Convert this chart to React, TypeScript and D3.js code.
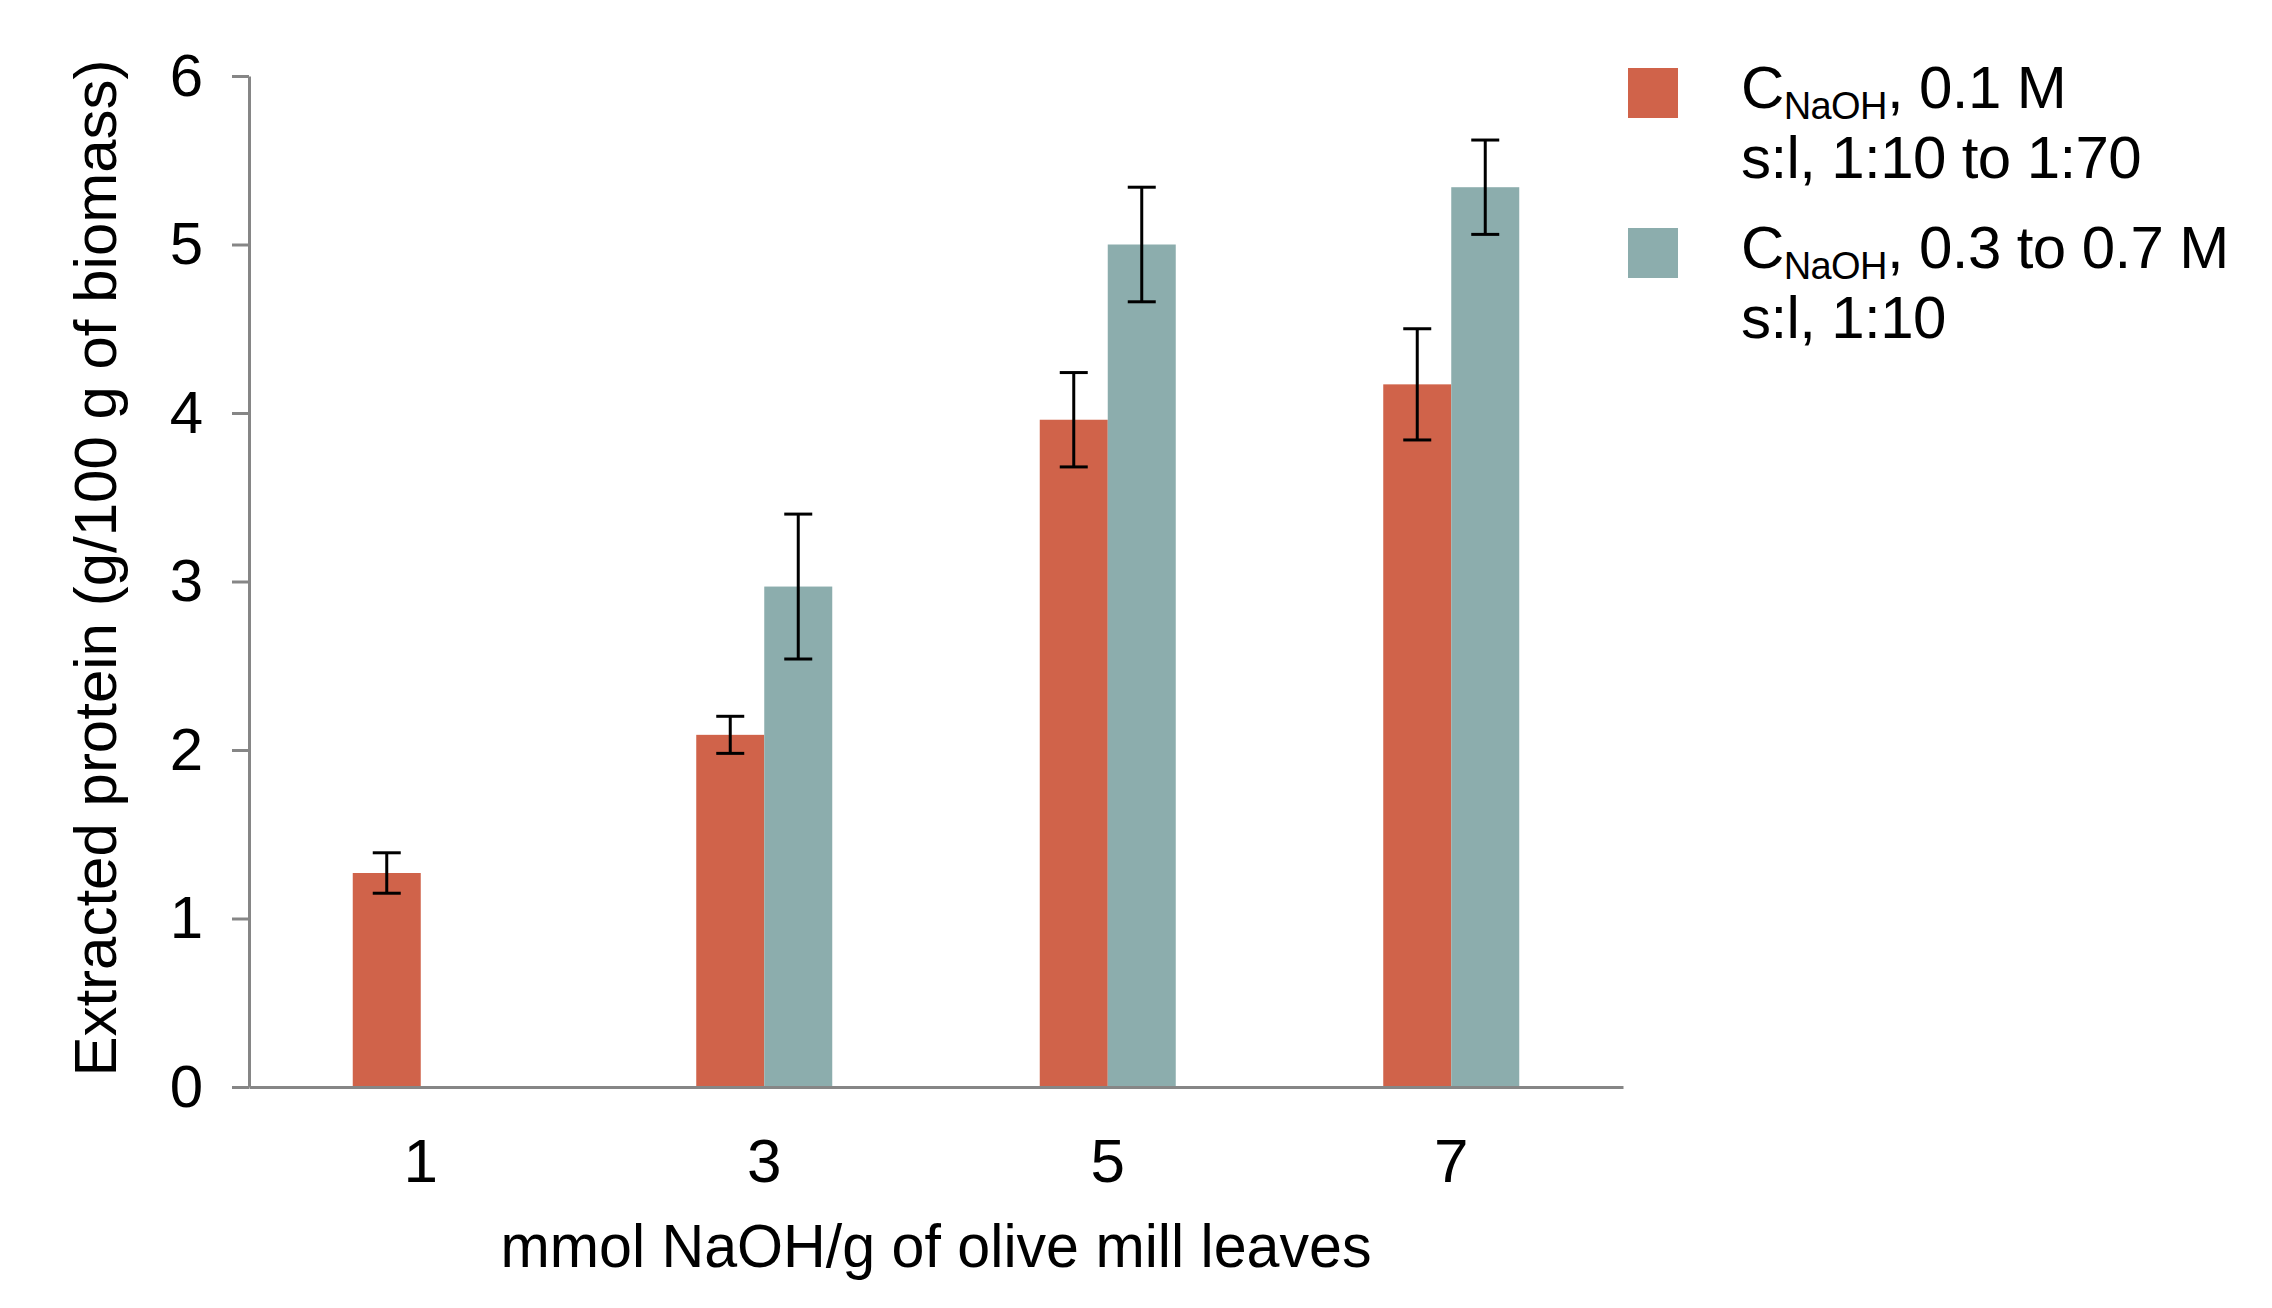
import React, { useRef, useEffect } from 'react';
import * as d3 from 'd3';

const categories = ['1', '3', '5', '7'];
const seriesNames = ['low', 'high'];
const lowValues = [1.27, 2.09, 3.96, 4.17];
const lowErrors = [0.12, 0.11, 0.28, 0.33];
const highValues = [null, 2.97, 5.0, 5.34];
const highErrors = [null, 0.43, 0.34, 0.28];
const yTicks = [0, 1, 2, 3, 4, 5, 6];
const colors = { low: '#D0634A', high: '#8CADAD' };

const FONT = '"Liberation Sans", Arial, Helvetica, sans-serif';

export default function App() {
  const container = useRef(null);

  useEffect(() => {
    if (!container.current) return;
    const W = 2272, H = 1308;
    const left = 249, right = 1623, top = 76, bottom = 1087;

    d3.select(container.current).selectAll('svg').remove();
    const svg = d3
      .select(container.current)
      .append('svg')
      .attr('width', W)
      .attr('height', H)
      .style('display', 'block')
      .style('background', '#fff');

    const x = d3.scaleBand().domain(categories).range([left, right]);
    const xSub = d3.scaleBand().domain(seriesNames).range([-68, 68]);
    const y = d3.scaleLinear().domain([0, 6]).range([bottom, top]);

    const rows = categories.flatMap((c, i) => [
      { cat: c, key: 'low', v: lowValues[i], e: lowErrors[i] },
      { cat: c, key: 'high', v: highValues[i], e: highErrors[i] },
    ]).filter((d) => d.v !== null);

    // bars
    svg
      .append('g')
      .selectAll('rect')
      .data(rows)
      .enter()
      .append('rect')
      .attr('x', (d) => x(d.cat) + x.bandwidth() / 2 + xSub(d.key))
      .attr('width', xSub.bandwidth())
      .attr('y', (d) => y(d.v))
      .attr('height', (d) => y(0) - y(d.v))
      .attr('fill', (d) => colors[d.key]);

    // error bars
    const err = svg.append('g').attr('stroke', '#000').attr('stroke-width', 3);
    rows.forEach((d) => {
      const cx = x(d.cat) + x.bandwidth() / 2 + xSub(d.key) + xSub.bandwidth() / 2;
      err.append('line').attr('x1', cx).attr('x2', cx).attr('y1', y(d.v + d.e)).attr('y2', y(d.v - d.e));
      err.append('line').attr('x1', cx - 14).attr('x2', cx + 14).attr('y1', y(d.v + d.e)).attr('y2', y(d.v + d.e));
      err.append('line').attr('x1', cx - 14).attr('x2', cx + 14).attr('y1', y(d.v - d.e)).attr('y2', y(d.v - d.e));
    });

    // y axis
    const yAxis = svg
      .append('g')
      .attr('transform', `translate(${left},0)`)
      .call(
        d3.axisLeft(y)
          .tickValues(yTicks)
          .tickFormat(d3.format('d'))
          .tickSize(17)
          .tickPadding(29)
          .tickSizeOuter(0)
      );
    yAxis.select('.domain').attr('stroke', '#868686').attr('stroke-width', 3);
    yAxis.selectAll('.tick line').attr('stroke', '#868686').attr('stroke-width', 3);
    yAxis.selectAll('.tick text').attr('font-size', 60).attr('font-family', FONT).attr('fill', '#000');

    // x axis
    const xAxis = svg
      .append('g')
      .attr('transform', `translate(0,${bottom})`)
      .call(d3.axisBottom(x).tickSize(0).tickSizeOuter(0).tickPadding(0));
    xAxis.select('.domain').attr('stroke', '#868686').attr('stroke-width', 3);
    xAxis
      .selectAll('.tick text')
      .attr('font-size', 62)
      .attr('font-family', FONT)
      .attr('fill', '#000')
      .attr('dy', null)
      .attr('y', 1182 - bottom);

    // axis titles
    svg
      .append('text')
      .attr('x', (left + right) / 2)
      .attr('y', 1267)
      .attr('text-anchor', 'middle')
      .attr('font-size', 62)
      .attr('font-family', FONT)
      .attr('textLength', 871)
      .attr('lengthAdjust', 'spacingAndGlyphs')
      .text('mmol NaOH/g of olive mill leaves');

    svg
      .append('text')
      .attr('transform', `translate(116,568) rotate(-90)`)
      .attr('text-anchor', 'middle')
      .attr('font-size', 60)
      .attr('font-family', FONT)
      .text('Extracted protein (g/100 g of biomass)');

    // legend
    const legend = [
      { key: 'low', line1: ', 0.1 M', line2: 's:l, 1:10 to 1:70', y0: 68 },
      { key: 'high', line1: ', 0.3 to 0.7 M', line2: 's:l, 1:10', y0: 228 },
    ];
    legend.forEach((l) => {
      svg.append('rect').attr('x', 1628).attr('y', l.y0).attr('width', 50).attr('height', 50).attr('fill', colors[l.key]);
      const t = svg
        .append('text')
        .attr('x', 1741)
        .attr('y', l.y0 + 40)
        .attr('font-size', 60)
        .attr('font-family', FONT)
        .attr('letter-spacing', -0.6);
      t.append('tspan').text('C');
      t.append('tspan').attr('font-size', 38).attr('dy', 11).text('NaOH');
      t.append('tspan').attr('dy', -11).text(l.line1);
      svg
        .append('text')
        .attr('x', 1741)
        .attr('y', l.y0 + 110)
        .attr('font-size', 60)
        .attr('font-family', FONT)
        .attr('letter-spacing', -0.6)
        .text(l.line2);
    });
  }, []);

  return (
    <>
      <style>{`body{margin:0}`}</style>
      <div ref={container}></div>
    </>
  );
}
